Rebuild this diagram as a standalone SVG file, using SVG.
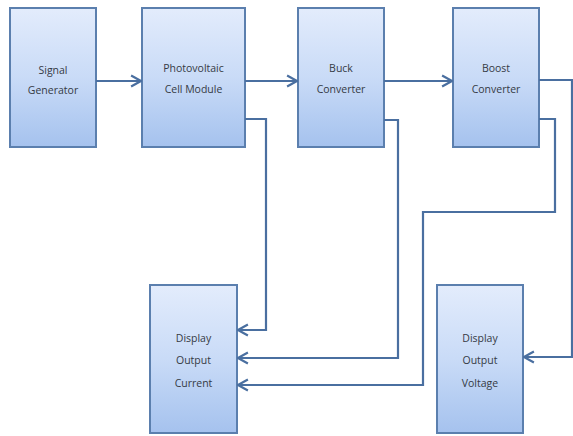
<svg xmlns="http://www.w3.org/2000/svg" width="573" height="436" viewBox="0 0 573 436">
  <style>
    .box { fill: url(#boxFill); stroke: #5b7fae; stroke-width: 2; }
    .label { font-family: "Open Sans", "Liberation Sans", sans-serif; font-size: 10.5px; fill: #353a44; text-anchor: middle; }
    .wire { fill: none; stroke: #4a6fa0; stroke-width: 2.2; stroke-linejoin: miter; }
  </style>
  <defs>
    <linearGradient id="boxFill" x1="0" y1="0" x2="0" y2="1">
      <stop offset="0" stop-color="#e3ecfc"/>
      <stop offset="0.5" stop-color="#c9dbf7"/>
      <stop offset="1" stop-color="#a5c2ee"/>
    </linearGradient>
    <marker id="chev" viewBox="0 0 10 10" refX="9" refY="5" markerWidth="6" markerHeight="6" orient="auto" markerUnits="strokeWidth">
      <path d="M1.5,0.8 L9,5 L1.5,9.2" fill="none" stroke="#4a6fa0" stroke-width="1.6"/>
    </marker>
  </defs>

  <rect width="573" height="436" fill="#ffffff"/>

  <g id="signal-generator">
    <rect class="box" x="10" y="8" width="86" height="139"/>
    <text class="label" x="53" y="74">Signal</text>
    <text class="label" x="53" y="94">Generator</text>
  </g>

  <g id="pv-module">
    <rect class="box" x="142" y="8" width="103" height="139"/>
    <text class="label" x="193.5" y="72">Photovoltaic</text>
    <text class="label" x="193.5" y="93">Cell Module</text>
  </g>

  <g id="buck-converter">
    <rect class="box" x="298" y="8" width="86" height="139"/>
    <text class="label" x="341" y="72">Buck</text>
    <text class="label" x="341" y="93">Converter</text>
  </g>

  <g id="boost-converter">
    <rect class="box" x="453" y="8" width="86" height="139"/>
    <text class="label" x="496" y="72">Boost</text>
    <text class="label" x="496" y="93">Converter</text>
  </g>

  <g id="display-current">
    <rect class="box" x="150" y="285" width="87" height="148"/>
    <text class="label" x="193.5" y="342">Display</text>
    <text class="label" x="193.5" y="364">Output</text>
    <text class="label" x="193.5" y="387">Current</text>
  </g>

  <g id="display-voltage">
    <rect class="box" x="437" y="285" width="86" height="148"/>
    <text class="label" x="480" y="342">Display</text>
    <text class="label" x="480" y="364">Output</text>
    <text class="label" x="480" y="387">Voltage</text>
  </g>

  <g id="connectors">
    <path class="wire" d="M96,81 H141" marker-end="url(#chev)"/>
    <path class="wire" d="M245,81 H297" marker-end="url(#chev)"/>
    <path class="wire" d="M384,81 H452" marker-end="url(#chev)"/>
    <path class="wire" d="M539,80 H572 V357 H524" marker-end="url(#chev)"/>
    <path class="wire" d="M245,119 H266 V330 H238" marker-end="url(#chev)"/>
    <path class="wire" d="M384,120 H398 V358 H238" marker-end="url(#chev)"/>
    <path class="wire" d="M539,119 H555 V212 H423 V385 H238" marker-end="url(#chev)"/>
  </g>
</svg>
